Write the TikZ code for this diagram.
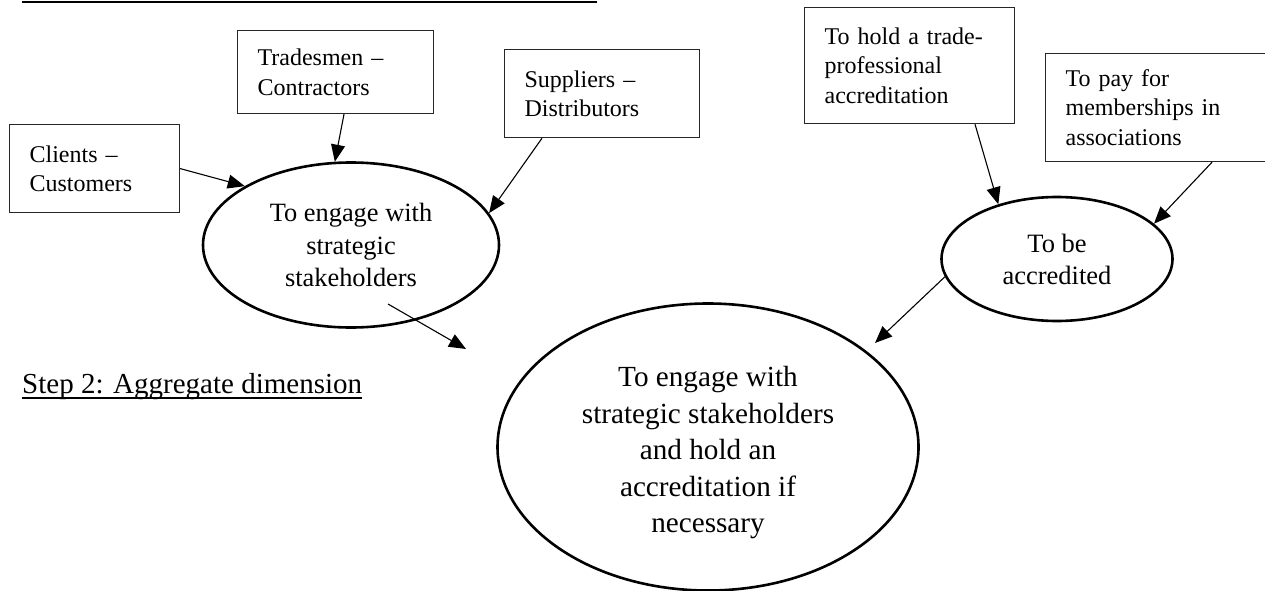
\documentclass[tikz,border=0pt]{standalone}
\usepackage{fontspec}
\setmainfont{Liberation Serif}
\usetikzlibrary{arrows.meta,shapes.geometric,calc}
\begin{document}
\begin{tikzpicture}[x=1pt,y=-1pt,
  box/.style={draw=black!85, line width=1.2pt, rectangle, align=left, inner xsep=20pt, inner ysep=0pt, font=\fontsize{24}{29.5}\selectfont, anchor=north west},
  oval/.style={draw, ellipse, line width=2.6pt, align=center, inner sep=0pt},
  arr/.style={line width=1.1pt, -{Triangle[length=17pt,width=14pt]}},
  rule/.style={line width=1.4pt}
]
\useasboundingbox (0,0) rectangle (1265,591);
\clip (0,0) rectangle (1265,591);

% cut-off heading underline at the top
\coordinate (t1) at (22,2);
\coordinate (t2) at (597,2);
\draw[rule] (t1) -- (t2);

% boxes
\node[box, text width=130pt, minimum width=170pt, minimum height=88pt] (clients) at (9,124) {Clients --\\Customers};
\node[box, text width=156pt, minimum width=196pt, minimum height=83pt] (trades) at (237,30) {Tradesmen --\\Contractors};
\node[box, text width=155pt, minimum width=195pt, minimum height=88pt] (suppliers) at (504,49) {Suppliers --\\Distributors};
\node[box, text width=170pt, minimum width=210pt, minimum height=116pt] (hold) at (804,7) {To hold a trade-\\professional\\accreditation};
\node[box, text width=190pt, minimum width=230pt, minimum height=108pt] (pay) at (1045,53) {To pay for\\memberships in\\associations};

% ellipses
\node[oval, minimum width=296pt, minimum height=165pt, font=\fontsize{26.4}{32.5}\selectfont] (small) at (351,245) {To engage with\\strategic\\stakeholders};
\node[oval, minimum width=231pt, minimum height=124pt, font=\fontsize{26.5}{32}\selectfont] (acc) at (1057,259) {To be\\accredited};
\node[oval, minimum width=421pt, minimum height=287pt] (big) at (708,447) {};
\node[align=center, inner sep=0pt, font=\fontsize{29.2}{36.5}\selectfont] (bigtext) at ($(big.center)+(0,6)$) {To engage with\\strategic stakeholders\\and hold an\\accreditation if\\necessary};

% step 2 label
\node[anchor=base west, inner sep=0pt, font=\fontsize{29}{35}\selectfont] (step2) at (22,393) {Step 2: Aggregate dimension};
\draw[line width=1.3pt] ($(step2.base west)+(0,5)$) -- ($(step2.base east)+(0,5)$);

% connectors
\draw[arr] (clients.east) -- (small.151);
\draw[arr] ($(trades.south west)+(107,0)$) -- (small.101);
\draw[arr] ($(suppliers.south west)+(38,0)$) -- (small.13);
\coordinate (s1) at (388,304);
\coordinate (e1) at (466,349);
\draw[arr] (s1) -- (e1);
\draw[arr] ($(hold.south west)+(171,0)$) -- (acc.137);
\draw[arr] ($(pay.south west)+(167,0)$) -- (acc.20);
\coordinate (e2) at (875,343);
\draw[arr] (acc.189) -- (e2);
\end{tikzpicture}
\end{document}
